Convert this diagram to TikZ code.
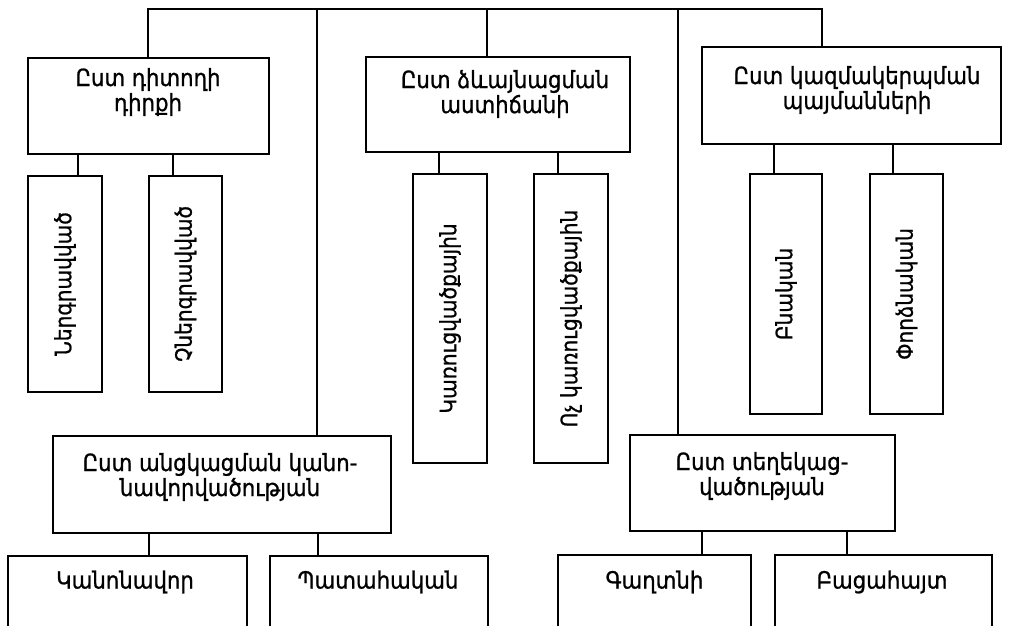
\documentclass[tikz,border=0pt]{standalone}
\usepackage{fontspec}
\setmainfont{DejaVu Sans}[FakeStretch=0.9,FakeBold=1]
\begin{document}
\begin{tikzpicture}[x=1pt,y=-1pt,
  line width=2.4pt,
  box/.style={draw, line width=2.4pt, rectangle, inner sep=0pt, minimum width=#1},
  txt/.style={font=\fontsize{23.6}{25}\selectfont, align=center, inner sep=0pt},
  vtxt/.style={font=\fontsize{22.4}{25}\selectfont, rotate=90, inner sep=0pt}]
\useasboundingbox (0,0) rectangle (1018,626);
\clip (0,0) rectangle (1018,626);
% top-level boxes
\node[box=241pt, minimum height=96pt] (b1) at (148.5,106) {};
\node[box=264pt, minimum height=95pt] (b2) at (498,104.5) {};
\node[box=299pt, minimum height=97pt] (b3) at (851.5,95.5) {};
\node[txt] (t1) at (148,92) {Ըստ դիտողի\\դիրքի};
\node[txt] (t2) at (505,94) {Ըստ ձևայնացման\\աստիճանի};
\node[txt] (t3) at (857,90) {Ըստ կազմակերպման\\պայմանների};
% vertical boxes
\node[box=74pt, minimum height=216pt] (v1) at (65,284) {};
\node[box=73pt, minimum height=216pt] (v2) at (185.5,284) {};
\node[box=74pt, minimum height=289pt] (v3) at (450,318.5) {};
\node[box=74pt, minimum height=289pt] (v4) at (571,318.5) {};
\node[box=72pt, minimum height=240pt] (v5) at (786,294) {};
\node[box=73pt, minimum height=240pt] (v6) at (906.5,294) {};
\node[vtxt] (tv1) at (v1) {Ներգրավված};
\node[vtxt] (tv2) at (v2) {Չներգրավված};
\node[vtxt] (tv3) at (v3) {Կառուցվածքային};
\node[vtxt] (tv4) at (v4) {Ոչ կառուցվածքային};
\node[vtxt] (tv5) at (v5) {Բնական};
\node[vtxt] (tv6) at (v6) {Փորձնական};
% middle boxes
\node[box=338pt, minimum height=97pt] (m1) at (222,484.5) {};
\node[box=265pt, minimum height=96pt] (m2) at (762.5,483) {};
\node[txt] (tm1) at (220,477) {Ըստ անցկացման կանո-\\նավորվածության};
\node[txt] (tm2) at (762,476) {Ըստ տեղեկաց-\\վածության};
% leaves
\node[box=239pt, minimum height=120pt] (l1) at (127.5,616) {};
\node[box=218pt, minimum height=120pt] (l2) at (379,616) {};
\node[box=193pt, minimum height=120pt] (l3) at (654.5,615) {};
\node[box=217pt, minimum height=120pt] (l4) at (883.5,615) {};
\node[txt] (tl1) at (125,582) {Կանոնավոր};
\node[txt] (tl2) at (378,582) {Պատահական};
\node[txt] (tl3) at (654.5,582) {Գաղտնի};
\node[txt] (tl4) at (882,582) {Բացահայտ};
% connector x positions
\coordinate (busL) at (148,9);
\coordinate (busR) at (822,9);
\coordinate (j2) at (487,9);
\coordinate (j3) at (317,9);
\coordinate (j4) at (678,9);
\coordinate (c1) at (78,0);
\coordinate (c2) at (173,0);
\coordinate (c3) at (439,0);
\coordinate (c4) at (558,0);
\coordinate (c5) at (774,0);
\coordinate (c6) at (893,0);
\coordinate (c7) at (149,0);
\coordinate (c8) at (318,0);
\coordinate (c9) at (702,0);
\coordinate (c10) at (847,0);
% connectors
\draw (b1.north -| busL) -- (busL) -- (busR) -- (b3.north -| busR);
\draw (j2) -- (b2.north -| j2);
\draw (j3) -- (m1.north -| j3);
\draw (j4) -- (m2.north -| j4);
\draw (b1.south -| c1) -- (v1.north -| c1);
\draw (b1.south -| c2) -- (v2.north -| c2);
\draw (b2.south -| c3) -- (v3.north -| c3);
\draw (b2.south -| c4) -- (v4.north -| c4);
\draw (b3.south -| c5) -- (v5.north -| c5);
\draw (b3.south -| c6) -- (v6.north -| c6);
\draw (m1.south -| c7) -- (l1.north -| c7);
\draw (m1.south -| c8) -- (l2.north -| c8);
\draw (m2.south -| c9) -- (l3.north -| c9);
\draw (m2.south -| c10) -- (l4.north -| c10);
\end{tikzpicture}
\end{document}
